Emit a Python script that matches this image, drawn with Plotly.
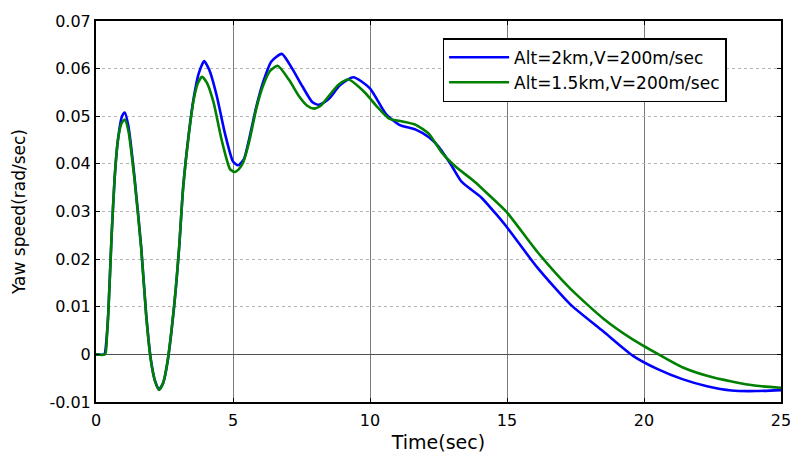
import plotly.graph_objects as go

# ---- data ----
t_blue = [0, 0.3, 0.38, 0.45, 0.57, 0.68, 0.8, 0.95, 1.05, 1.18, 1.4, 1.65, 1.83, 2.0,
          2.15, 2.3, 2.45, 2.6, 2.85, 3.03, 3.18, 3.39, 3.57, 3.75, 3.95, 4.15, 4.41,
          4.71, 5.0, 5.19, 5.4, 5.6, 5.85, 6.09, 6.4, 6.78, 7.17, 7.53, 7.89, 8.13,
          8.49, 8.9, 9.39, 9.99, 10.59, 11.07, 11.67, 12.15, 12.51, 12.99,
          13.35, 14.07, 14.55, 14.97, 16.11, 17.31, 18.52, 19.6, 20.5, 21.4, 22.3,
          23.2, 24.1, 25]
yaw_blue = [0, 0, 0.003, 0.009, 0.025, 0.037, 0.045, 0.050, 0.0508, 0.048, 0.0375,
            0.0225, 0.0085, -0.001, -0.0055, -0.0074, -0.006, -0.002, 0.010, 0.022,
            0.035, 0.0465, 0.054, 0.059, 0.0616, 0.0595, 0.0542, 0.0463, 0.0405,
            0.0397, 0.041, 0.0455, 0.052, 0.057, 0.0615, 0.0631, 0.0599, 0.0563,
            0.0530, 0.0524, 0.0536, 0.0565, 0.0582, 0.0559, 0.0504, 0.0482,
            0.0472, 0.0456, 0.0436, 0.0395, 0.0362, 0.0329, 0.0298, 0.0269, 0.0182,
            0.0105, 0.0048, -0.0003, -0.0031, -0.0052, -0.0067, -0.0076, -0.0077,
            -0.0075]

t_green = [0, 0.33, 0.4, 0.45, 0.57, 0.68, 0.8, 0.93, 1.05, 1.18, 1.4, 1.65, 1.83, 2.0,
           2.15, 2.3, 2.45, 2.6, 2.85, 3.03, 3.18, 3.39, 3.57, 3.72, 3.87, 4.05, 4.29,
           4.59, 4.89, 5.05, 5.2, 5.37, 5.6, 5.85, 6.09, 6.35, 6.63, 7.05, 7.41, 7.71,
           7.95, 8.2, 8.49, 8.85, 9.21, 9.81, 10.23, 10.7, 11.19, 11.67, 12.15, 12.63,
           13.11, 13.83, 14.37, 14.97, 16.11, 17.31, 18.52, 19.6, 20.5, 21.4,
           22.3, 23.2, 24.1, 25]
yaw_green = [0, 0, 0.004, 0.0085, 0.025, 0.037, 0.045, 0.0485, 0.0493, 0.047, 0.037,
             0.0222, 0.0082, -0.0012, -0.0055, -0.0074, -0.006, -0.0018, 0.0102,
             0.0222, 0.0349, 0.0463, 0.0536, 0.057, 0.0583, 0.057, 0.0529, 0.0449,
             0.0389, 0.0383, 0.0388, 0.0403, 0.0449, 0.0516, 0.0563, 0.0595, 0.0606,
             0.0576, 0.0542, 0.0522, 0.0516, 0.0522, 0.0542, 0.0566, 0.0577, 0.0550,
             0.0522, 0.0495, 0.0489, 0.0482, 0.0463, 0.0423, 0.0395, 0.0362,
             0.0333, 0.0300, 0.0215, 0.0138, 0.0075, 0.0031, 0.0001, -0.0027,
             -0.0045, -0.0057, -0.0066, -0.0070]

series_names = ["Alt=2km,V=200m/sec", "Alt=1.5km,V=200m/sec"]
x_ticks = [0, 5, 10, 15, 20, 25]
y_ticks = [-0.01, 0, 0.01, 0.02, 0.03, 0.04, 0.05, 0.06, 0.07]
y_tick_labels = ["-0.01", "0", "0.01", "0.02", "0.03", "0.04", "0.05", "0.06", "0.07"]

FONT = "DejaVu Sans, Liberation Sans, sans-serif"

fig = go.Figure()
fig.add_trace(go.Scatter(x=t_blue, y=yaw_blue, mode="lines", name=series_names[0],
                         line=dict(color="#0000FF", width=2.6, shape="spline", smoothing=0.6)))
fig.add_trace(go.Scatter(x=t_green, y=yaw_green, mode="lines", name=series_names[1],
                         line=dict(color="#008000", width=2.6, shape="spline", smoothing=0.6)))

fig.update_layout(
    width=803, height=462,
    margin=dict(l=96, r=13, t=15, b=48),
    paper_bgcolor="white", plot_bgcolor="white",
    font=dict(family=FONT, color="black", size=15),
    showlegend=True,
    legend=dict(x=0.506, y=0.955, xanchor="left", yanchor="top",
                bgcolor="white", bordercolor="black", borderwidth=1.5,
                font=dict(family=FONT, size=17), itemwidth=60,
                tracegroupgap=0),
)
fig.update_xaxes(range=[0, 25], tickvals=x_ticks, ticktext=[str(v) for v in x_ticks],
                 showline=True, linecolor="black", linewidth=2, mirror="ticks",
                 ticks="inside", ticklen=4, tickcolor="black",
                 showgrid=True, gridcolor="#7a7a7a", gridwidth=1, zeroline=False,
                 tickfont=dict(size=16), ticklabelstandoff=3,
                 title=dict(text="Time(sec)", font=dict(size=19), standoff=6))
fig.update_yaxes(range=[-0.01, 0.07], tickvals=y_ticks, ticktext=y_tick_labels,
                 showline=True, linecolor="black", linewidth=2, mirror="ticks",
                 ticks="inside", ticklen=4, tickcolor="black",
                 showgrid=True, gridcolor="#b4b4b4", gridwidth=1, griddash="dot",
                 zeroline=True, zerolinecolor="#505050", zerolinewidth=1,
                 tickfont=dict(size=16),
                 title=dict(text="Yaw speed(rad/sec)", font=dict(size=17), standoff=19))

fig.write_html("out.html")
